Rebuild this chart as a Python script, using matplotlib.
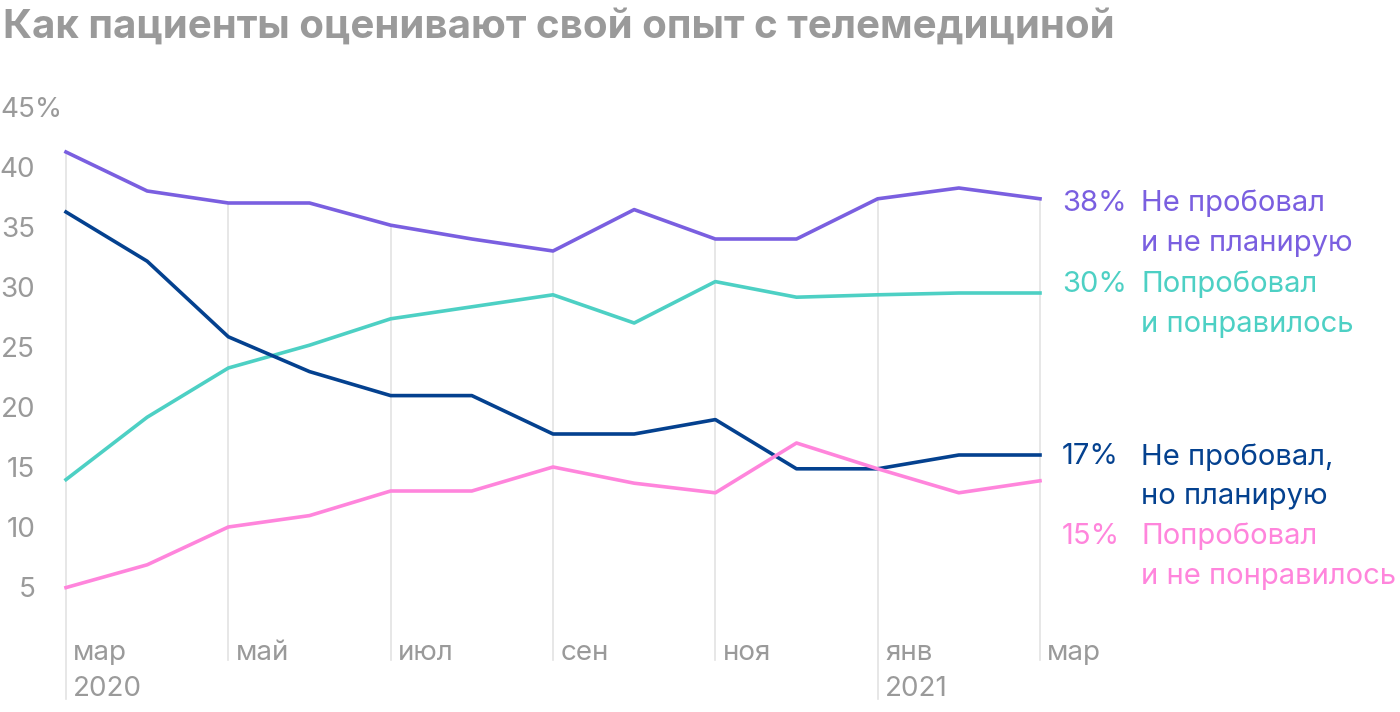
import matplotlib.pyplot as plt

# monthly survey, mar 2020 .. mar 2021
months = ["мар", "апр", "май", "июн", "июл", "авг", "сен", "окт", "ноя", "дек", "янв", "фев", "мар"]
tick_idx = [0, 2, 4, 6, 8, 10, 12]
tick_labels = ["мар\n2020", "май", "июл", "сен", "ноя", "янв\n2021", "мар"]

no_try_no_plan = [41.5, 38.25, 37.25, 37.25, 35.4, 34.25, 33.25, 36.7, 34.25, 34.25, 37.6, 38.5, 37.6]
tried_liked = [14.2, 19.4, 23.5, 25.4, 27.6, 28.6, 29.6, 27.25, 30.7, 29.4, 29.6, 29.75, 29.75]
no_try_plan = [36.5, 32.4, 26.1, 23.2, 21.2, 21.2, 18.0, 18.0, 19.2, 15.1, 15.1, 16.25, 16.25]
tried_disliked = [5.2, 7.1, 10.25, 11.2, 13.25, 13.25, 15.25, 13.9, 13.1, 17.25, 15.1, 13.1, 14.1]

series = [
    (no_try_no_plan, "#7a5fe0", "38%", ["Не пробовал", "и не планирую"], 37.2),
    (tried_liked, "#4dd0c4", "30%", ["Попробовал", "и понравилось"], 30.45),
    (no_try_plan, "#04418f", "17%", ["Не пробовал,", "но планирую"], 16.1),
    (tried_disliked, "#ff85dc", "15%", ["Попробовал", "и не понравилось"], 9.45),
]

plt.rcParams['font.family'] = ['Inter', 'DejaVu Sans']
gray = "#9a9a9a"
fs = 20
fs_lab = 21

fig = plt.figure(figsize=(14, 7.12), dpi=100)
ax = fig.add_axes([66 / 1400, 2 / 712, 974 / 1400, 600 / 712])
ax.set_xlim(0, 12)
ax.set_ylim(-5, 45)
ax.axis("off")

x = list(range(len(months)))

# vertical grid lines, from the top line down to the labels
for i, lab in zip(tick_idx, tick_labels):
    top = max(s[0][i] for s in series)
    bottom = -4.1 if "\n" in lab else -0.8
    ax.plot([i, i], [bottom, top], color="#e3e3e3", lw=1.2, zorder=1, clip_on=False)

for vals, color, pct, words, ly in series:
    ax.plot(x, vals, color=color, lw=2.6, zorder=3, clip_on=False)
    ax.text(12.27, ly, pct, color=color, fontsize=fs_lab, va="center", ha="left")
    ax.text(13.25, ly, words[0], color=color, fontsize=fs_lab, va="center", ha="left")
    ax.text(13.25, ly - 3.33, words[1], color=color, fontsize=fs_lab, va="center", ha="left")

# y labels
ax.text(-0.81, 45, "45%", color=gray, fontsize=fs, va="center", ha="left")
for v in [40, 35, 30, 25, 20, 15, 10, 5]:
    ax.text(-0.38, v, str(v), color=gray, fontsize=fs, va="center", ha="right")

# x labels
for i, lab in zip(tick_idx, tick_labels):
    parts = lab.split("\n")
    ax.text(i + 0.09, -0.25, parts[0], color=gray, fontsize=fs, va="center", ha="left")
    if len(parts) > 1:
        ax.text(i + 0.09, -3.25, parts[1], color=gray, fontsize=fs, va="center", ha="left")

fig.text(3 / 1400, 1 - 27 / 712, "Как пациенты оценивают свой опыт с телемедициной",
         color=gray, fontsize=29, fontweight="bold", va="center", ha="left")

fig.savefig("out.png", dpi=100)
